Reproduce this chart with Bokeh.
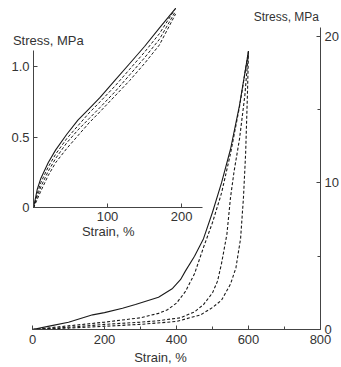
from bokeh.plotting import figure
from bokeh.models import Range1d, LinearAxis, FixedTicker, Label
from bokeh.embed import file_html
from bokeh.resources import INLINE

# ---------------- data ----------------
# main plot: strain (%) vs stress (MPa)
load_strain = [0, 50, 100, 167, 200, 250, 286, 350, 389, 411, 425, 450, 475, 500, 525, 550, 575, 600]
load_stress = [0, 0.25, 0.5, 1.0, 1.15, 1.45, 1.7, 2.2, 2.8, 3.4, 4.0, 5.0, 6.2, 8.0, 10.0, 12.3, 15.3, 19.0]

a_strain = [0, 100, 200, 300, 350, 375, 400, 425, 450, 475, 500, 525, 550, 575, 600]
a_stress = [0, 0.25, 0.5, 0.8, 1.1, 1.35, 1.8, 2.6, 3.8, 5.6, 7.3, 9.3, 12.0, 15.2, 19.0]

b_strain = [0, 100, 200, 300, 350, 411, 450, 475, 500, 514, 525, 540, 550, 560, 575, 590, 600]
b_stress = [0, 0.15, 0.35, 0.5, 0.6, 0.8, 1.2, 1.7, 2.5, 3.3, 4.5, 6.5, 9.0, 10.8, 13.0, 16.0, 19.0]

c_strain = [0, 100, 200, 300, 400, 467, 500, 525, 550, 565, 578, 586, 592, 597, 600]
c_stress = [0, 0.1, 0.22, 0.35, 0.55, 1.0, 1.5, 2.0, 3.1, 4.2, 6.2, 9.0, 12.0, 16.0, 19.0]

main_x_ticks = [0, 200, 400, 600, 800]
main_x_minor = [100, 300, 500, 700]
main_y_ticks = [0, 10, 20]
main_y_minor = [5, 15]

# inset: small-strain region
in_strain = [0, 5, 10, 20, 30, 45, 60, 75, 90, 110, 130, 150, 170, 192]
in_load = [0, 0.13, 0.21, 0.32, 0.41, 0.52, 0.62, 0.70, 0.78, 0.90, 1.02, 1.14, 1.27, 1.41]
in_d1 = [0, 0.10, 0.18, 0.29, 0.38, 0.49, 0.58, 0.67, 0.75, 0.86, 0.98, 1.10, 1.23, 1.41]
in_d2 = [0, 0.08, 0.15, 0.26, 0.35, 0.46, 0.55, 0.63, 0.71, 0.82, 0.94, 1.06, 1.19, 1.39]
in_d3 = [0, 0.06, 0.12, 0.23, 0.32, 0.42, 0.51, 0.60, 0.68, 0.79, 0.90, 1.02, 1.15, 1.37]

in_x_ticks = [100, 200]
in_y_ticks = [0, 0.5, 1.0]
in_y_labels = {0: "0", 0.5: "0.5", 1: "1.0"}

# ---------------- styling ----------------
FONT = "Liberation Sans"
TXT = "#333333"
AX = "#444444"
LN = "#1a1a1a"
FS = "13px"

p = figure(width=341, height=367, output_backend="svg", toolbar_location=None,
           x_range=Range1d(-88.9, 800), y_range=Range1d(0, 22.45),
           x_axis_location="below", y_axis_location="right",
           min_border_left=0, min_border_right=21, min_border_top=0, min_border_bottom=37)
p.outline_line_color = None
p.xgrid.visible = False
p.ygrid.visible = False
p.background_fill_color = "white"
p.border_fill_color = "white"

def style_axis(ax):
    ax.axis_line_color = AX
    ax.axis_line_width = 1
    ax.major_tick_line_color = AX
    ax.minor_tick_line_color = AX
    ax.major_tick_in = 4
    ax.major_tick_out = 0
    ax.minor_tick_in = 3
    ax.minor_tick_out = 0
    ax.major_label_text_font = FONT
    ax.major_label_text_font_size = FS
    ax.major_label_text_color = TXT
    ax.axis_label_text_font = FONT
    ax.axis_label_text_font_size = FS
    ax.axis_label_text_font_style = "normal"
    ax.axis_label_text_color = TXT

def text_label(txt, x, y, size=FS, **kw):
    return Label(x=x, y=y, text=txt, text_align="center", text_baseline="middle",
                 text_font=FONT, text_font_size=size, text_color=TXT, **kw)

xa = p.xaxis[0]
style_axis(xa)
xa.ticker = FixedTicker(ticks=main_x_ticks, minor_ticks=main_x_minor)
xa.bounds = (0, 800)
xa.major_label_standoff = 5
xa.axis_label = "Strain, %"
xa.axis_label_standoff = 3

ya = p.yaxis[0]
style_axis(ya)
ya.ticker = FixedTicker(ticks=main_y_ticks, minor_ticks=main_y_minor)
ya.bounds = (0, 20.6)
ya.major_label_standoff = 4

p.add_layout(text_label("Stress, MPa", 705, 21.3, size="12px"))

# main curves
p.line(load_strain, load_stress, line_color=LN, line_width=1.1)
p.line(a_strain, a_stress, line_color=LN, line_width=1.1, line_dash="3 2")
p.line(b_strain, b_stress, line_color=LN, line_width=1.1, line_dash="3 2")
p.line(c_strain, c_stress, line_color=LN, line_width=1.1, line_dash="3 2")

# inset ranges
p.extra_x_ranges = {"ix": Range1d(-44.6, 387.8)}
p.extra_y_ranges = {"iy": Range1d(-0.859, 1.465)}

ixa = LinearAxis(x_range_name="ix", y_range_name="iy", fixed_location=0)
style_axis(ixa)
ixa.ticker = FixedTicker(ticks=in_x_ticks, minor_ticks=[])
ixa.bounds = (0, 228)
ixa.major_label_standoff = 4
p.add_layout(ixa, "below")

iya = LinearAxis(x_range_name="ix", y_range_name="iy", fixed_location=0)
style_axis(iya)
iya.ticker = FixedTicker(ticks=in_y_ticks, minor_ticks=[])
iya.major_label_overrides = in_y_labels
iya.bounds = (0, 1.11)
iya.major_label_standoff = 4
p.add_layout(iya, "left")

p.add_layout(text_label("Stress, MPa", 20, 1.18, x_range_name="ix", y_range_name="iy"))
p.add_layout(text_label("Strain, %", 101, -0.17, x_range_name="ix", y_range_name="iy"))

p.line(in_strain, in_load, x_range_name="ix", y_range_name="iy", line_color=LN, line_width=1.1)
p.line(in_strain, in_d1, x_range_name="ix", y_range_name="iy", line_color=LN, line_width=1.0, line_dash="3 2")
p.line(in_strain, in_d2, x_range_name="ix", y_range_name="iy", line_color=LN, line_width=1.0, line_dash="3 2")
p.line(in_strain, in_d3, x_range_name="ix", y_range_name="iy", line_color=LN, line_width=1.0, line_dash="3 2")

open("out.html", "w").write(file_html(p, INLINE))
